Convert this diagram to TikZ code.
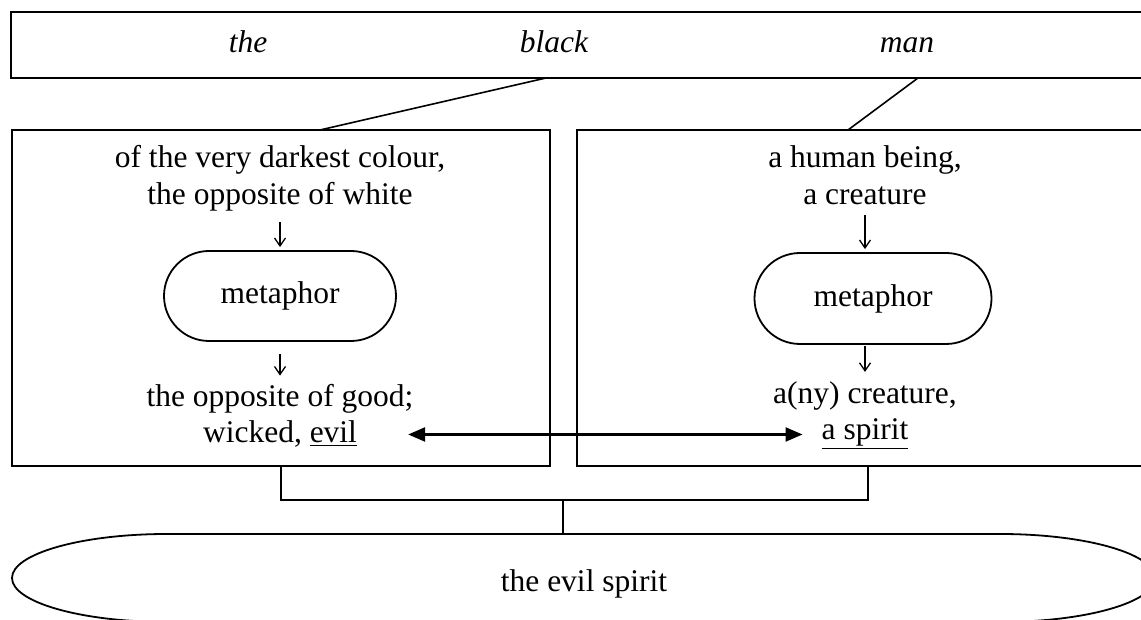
\documentclass[tikz,border=0pt]{standalone}
\usepackage{fontspec}
\setmainfont{Liberation Serif}
\usetikzlibrary{arrows.meta,shapes.misc}

\tikzset{
  txt/.style={inner sep=0pt, anchor=base, font=\fontsize{31.5}{37}\selectfont},
  frame/.style={draw, line width=1.9pt, rectangle, inner sep=0pt},
  pill/.style={draw, line width=1.8pt, rounded rectangle, inner sep=0pt,
    font=\fontsize{31.5}{37}\selectfont},
  thin/.style={line width=1.3pt},
  down/.style={thin, -{Straight Barb[length=8pt,width=11pt,line width=1.3pt]}},
  both/.style={line width=2.4pt, {Triangle[length=17pt,width=14pt]}-{Triangle[length=17pt,width=14pt]}}
}

\begin{document}
\begin{tikzpicture}[x=1pt,y=1pt]
\useasboundingbox (0,0) rectangle (1141,620);
\clip (0,0) rectangle (1141,620);
\fill[white] (0,0) rectangle (1141,620);

% phrase bar
\node[frame, minimum width=1159pt, minimum height=66pt] (top) at (590.5,575) {};
\node[txt, font=\fontsize{31.5}{37}\selectfont\itshape] (wthe) at (248,567) {the};
\node[txt, font=\fontsize{31.5}{37}\selectfont\itshape] (wblack) at (554,567) {black};
\node[txt, font=\fontsize{31.5}{37}\selectfont\itshape] (wman) at (907,567) {man};

% sense boxes
\node[frame, minimum width=538pt, minimum height=336pt] (left) at (281,322) {};
\node[frame, minimum width=592pt, minimum height=336pt] (right) at (873,322) {};

% links from the words to their boxes
\coordinate (blackfoot) at (546,542);
\coordinate (blacktop) at (320,490);
\coordinate (manfoot) at (918,542);
\coordinate (mantop) at (848,490);
\draw[line width=1.6pt] (blackfoot) -- (blacktop);
\draw[line width=1.6pt] (manfoot) -- (mantop);

% left chain: black
\node[txt] (L1) at (280,452) {of the very darkest colour,};
\node[txt] (L2) at (280,415) {the opposite of white};
\node[pill, minimum width=232pt, minimum height=90pt] (metaL) at (280,324) {metaphor};
\node[txt] (L3) at (280,213) {the opposite of good;};
\node[txt] (L4) at (280,177) {wicked, \underline{evil}};
\draw[down, shorten <=10pt, shorten >=3pt] (L2.south) -- (L2.south |- metaL.north);
\draw[down, shorten <=12pt, shorten >=9pt] (L3.north |- metaL.south) -- (L3.north);

% right chain: man
\node[txt] (R1) at (865,452) {a human being,};
\node[txt] (R2) at (865,415) {a creature};
\node[pill, minimum width=237pt, minimum height=91pt] (metaR) at (873,321.5) {metaphor};
\node[txt] (R3) at (865,216) {a(ny) creature,};
\node[txt] (R4) at (865,180) {\underline{a spirit}};
\draw[down, shorten <=10pt, shorten >=3pt] (R2.south) -- (R2.south |- metaR.north);
\draw[down, shorten <=1pt, shorten >=10pt] (R3.north |- metaR.south) -- (R3.north);

% evil <-> spirit
\draw[both, shorten <=51pt, shorten >=19pt] (L4.east) -- (L4.east -| R4.west);

% combination
\coordinate (join) at (563,120);
\coordinate (evtop) at (563,86);
\draw[thin] (left.south) |- (join) -| ([xshift=-5pt]right.south);
\draw[thin] (join) -- (evtop);

% result
\draw[line width=1.8pt] (167,86) -- (1000,86)
  arc[start angle=90, end angle=-90, x radius=155, y radius=44]
  -- (167,-2)
  arc[start angle=270, end angle=90, x radius=155, y radius=44] -- cycle;
\node[txt] (result) at (584,28) {the evil spirit};
\end{tikzpicture}
\end{document}
